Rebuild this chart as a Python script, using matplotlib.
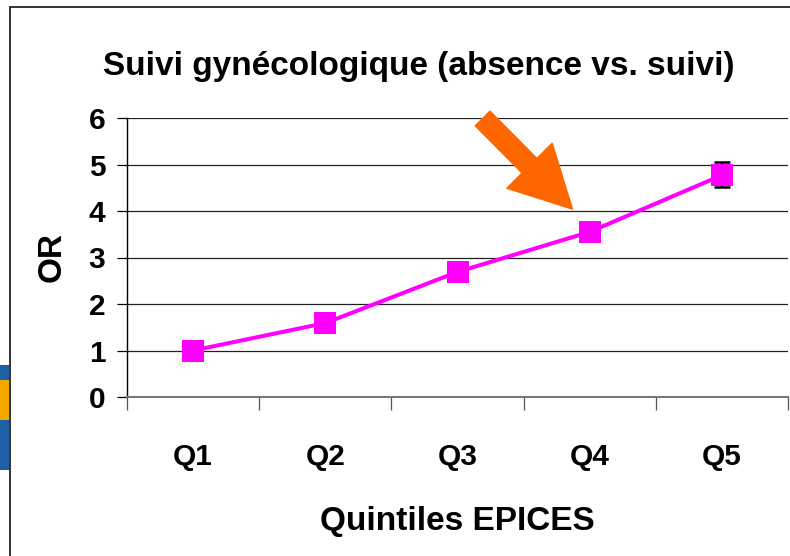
import matplotlib
matplotlib.use("Agg")
import matplotlib.pyplot as plt
from matplotlib.patches import Rectangle

plt.rcParams['font.family'] = ['Liberation Sans', 'DejaVu Sans']
plt.rcParams['font.weight'] = 'bold'

# donnees
quintiles = ['Q1', 'Q2', 'Q3', 'Q4', 'Q5']
odds_ratio = [1.0, 1.59, 2.69, 3.55, 4.77]
err_bas = [0, 0, 0, 0, 0.25]
err_haut = [0, 0, 0, 0, 0.29]

fig = plt.figure(figsize=(7.9, 5.56), dpi=100)
ax = fig.add_axes([127 / 790, 1 - 397 / 556, 661 / 790, 279 / 556])

pos = list(range(len(quintiles)))

# barres d'erreur (derriere les marqueurs)
ax.errorbar(pos, odds_ratio, yerr=[err_bas, err_haut], fmt='none', ecolor='black',
            elinewidth=1.2, capsize=6, capthick=1.8, zorder=2)
ax.plot(pos, odds_ratio, color='#FF00FF', linewidth=2.9, marker='s',
        markersize=15.5, markeredgewidth=0, zorder=3)

ax.set_xlim(-0.5, len(quintiles) - 0.5)
ax.set_ylim(0, 6)
ax.set_yticks(range(0, 7))
ax.yaxis.grid(True, color='#222222', linewidth=0.9)
ax.set_axisbelow(True)

# graduations aux limites des categories, etiquettes au centre
ax.set_xticks([p - 0.5 for p in pos] + [len(quintiles) - 0.5])
ax.set_xticklabels([])
ax.set_xticks(pos, minor=True)
ax.set_xticklabels(quintiles, minor=True, fontsize=21.5, fontweight='bold')
ax.tick_params(axis='x', which='major', length=9, width=0.9, color='#555555', direction='out')
ax.tick_params(axis='x', which='minor', length=0, pad=33)
ax.tick_params(axis='y', length=7.5, width=0.9, pad=8, labelsize=21.5)
for lab in ax.get_yticklabels():
    lab.set_fontweight('bold')

for s in ['top', 'right']:
    ax.spines[s].set_visible(False)
ax.spines['left'].set_color('black')
ax.spines['left'].set_linewidth(1.0)
ax.spines['bottom'].set_color('#777777')
ax.spines['bottom'].set_linewidth(1.5)

ax.set_xlabel('Quintiles EPICES', fontsize=24, fontweight='bold', labelpad=25)
ax.set_ylabel('OR', fontsize=24, fontweight='bold', labelpad=15)

fig.text(419 / 790, 1 - 67 / 556, 'Suivi gynécologique (absence vs. suivi)',
         ha='center', va='center', fontsize=24, fontweight='bold')

# fleche orange
ax.annotate('', xy=(2.87, 4.04), xytext=(2.19, 5.99),
            arrowprops=dict(arrowstyle='simple,head_width=46,head_length=44,tail_width=15',
                            mutation_scale=1, color='#FF6600', shrinkA=0, shrinkB=0),
            annotation_clip=False, zorder=5)

# cadre de la diapositive
fig.patches.append(Rectangle((10 / 790, -0.1), 2, 1 - 7 / 556 + 0.1, transform=fig.transFigure,
                             fill=False, edgecolor='#222222', linewidth=1.3))

# bout de logo a gauche
fig.patches.append(Rectangle((0, 1 - 470 / 556), 9 / 790, 105 / 556, transform=fig.transFigure,
                             facecolor='#1f5fa8', edgecolor='none'))
fig.patches.append(Rectangle((0, 1 - 420 / 556), 9 / 790, 40 / 556, transform=fig.transFigure,
                             facecolor='#f5a800', edgecolor='none'))

fig.savefig('out.png', dpi=100)
